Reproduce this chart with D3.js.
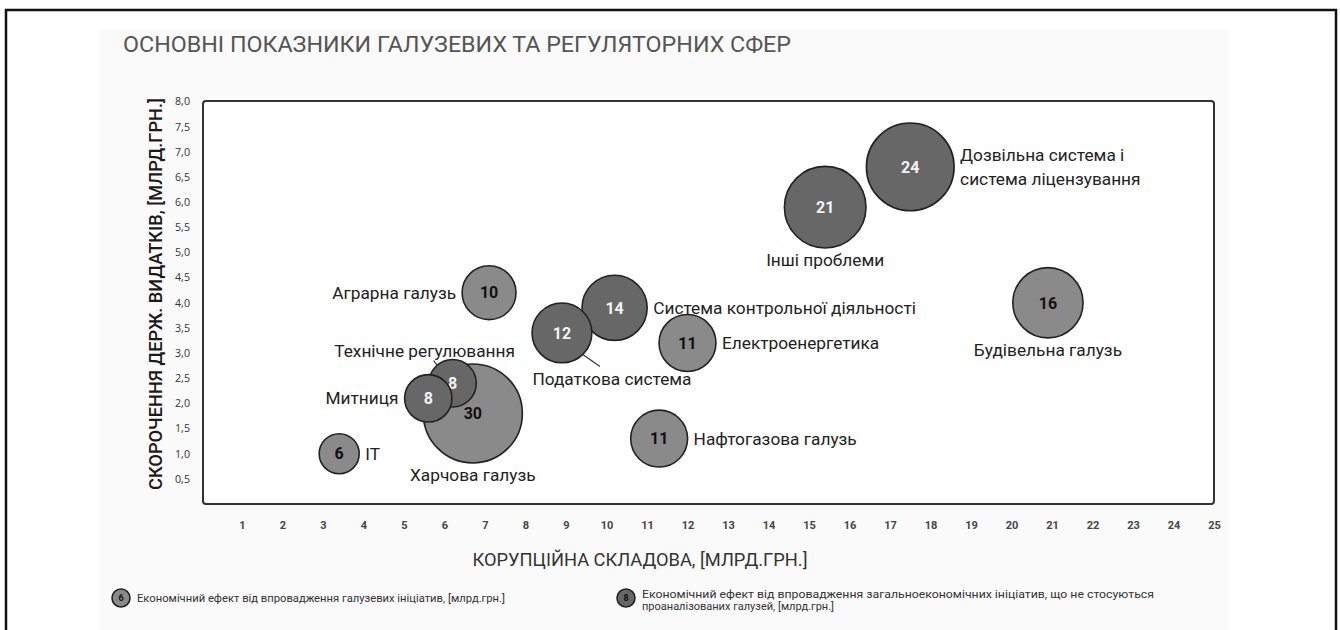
<!DOCTYPE html>
<html>
<head>
<meta charset="utf-8">
<script src="https://cdn.jsdelivr.net/npm/d3@7"></script>
<style>
  html, body { margin: 0; padding: 0; background: #fff; }
  svg { display: block; font-family: Roboto, "Noto Sans", sans-serif; }
</style>
</head>
<body>
<svg id="chart" width="1340" height="630"></svg>
<script>
// Chart data
const sectors = [
    "IT", "Технічне регулювання", "Митниця", "Харчова галузь", "Аграрна галузь",
    "Податкова система", "Система контрольної діяльності", "Електроенергетика",
    "Нафтогазова галузь", "Інші проблеми", "Дозвільна система і система ліцензування",
    "Будівельна галузь"
];
const corruption = [3.4, 6.2, 5.6, 6.7, 7.1, 8.9, 10.2, 12.0, 11.3, 15.4, 17.5, 20.9];
const spendingCut = [1.0, 2.4, 2.1, 1.8, 4.2, 3.4, 3.9, 3.2, 1.3, 5.9, 6.7, 4.0];
const effect = [6, 8, 8, 30, 10, 12, 14, 11, 11, 21, 24, 16];
// "sector" = sector initiatives, "general" = general economic initiatives
const effectType = ["sector", "general", "general", "sector", "sector", "general", "general",
    "sector", "sector", "general", "general", "sector"];

const xTicks = d3.range(1, 26);
const yTicks = d3.range(0.5, 8.01, 0.5);

// Label placement (layout only)
const labelPlace = [
    {side: "right"}, {side: "above", dx: -28, lead: true}, {side: "left"}, {side: "below"},
    {side: "left"}, {side: "belowright", dx: 50, lead: true}, {side: "right"}, {side: "right"},
    {side: "right"}, {side: "below"}, {side: "right", lines: ["Дозвільна система і", "система ліцензування"]},
    {side: "below"}
];

const svg = d3.select("#chart");

// page frame and panel
svg.append("rect").attr("x", 0).attr("y", 0).attr("width", 1340).attr("height", 630).attr("fill", "#fff");
svg.append("rect").attr("x", 100).attr("y", 30).attr("width", 1128).attr("height", 610).attr("fill", "#fafafa");
svg.append("path")
    .attr("d", "M6,640 L6,10 L1336,10 L1336,640")
    .attr("fill", "none").attr("stroke", "#111").attr("stroke-width", 2.5);

svg.append("text")
    .attr("x", 123).attr("y", 52)
    .attr("font-size", 22).attr("fill", "#555")
    .attr("textLength", 668).attr("lengthAdjust", "spacingAndGlyphs")
    .text("ОСНОВНІ ПОКАЗНИКИ ГАЛУЗЕВИХ ТА РЕГУЛЯТОРНИХ СФЕР");

const plot = {left: 203, right: 1214, top: 101, bottom: 504};

const x = d3.scaleLinear().domain([0, 25]).range([201.5, 1214]);
const y = d3.scaleLinear().domain([0, 8]).range([504, 101.5]);
const r = d3.scaleSqrt().domain([6, 30]).range([20, 49.5]);

svg.append("rect")
    .attr("x", plot.left).attr("y", plot.top)
    .attr("width", plot.right - plot.left).attr("height", plot.bottom - plot.top)
    .attr("rx", 3)
    .attr("fill", "#fff").attr("stroke", "#333").attr("stroke-width", 2);

const commaFmt = v => d3.format(".1f")(v).replace(".", ",");

const yAxis = svg.append("g")
    .attr("transform", `translate(${plot.left - 10},0)`)
    .call(d3.axisLeft(y).tickValues(yTicks).tickSize(0).tickFormat(commaFmt));
yAxis.select(".domain").remove();
yAxis.selectAll("text")
    .attr("font-family", "'Open Sans', sans-serif")
    .attr("font-size", 10.5).attr("fill", "#333")
    .attr("textLength", 15).attr("lengthAdjust", "spacingAndGlyphs");

const xAxis = svg.append("g")
    .attr("transform", `translate(0,${plot.bottom + 14})`)
    .call(d3.axisBottom(x).tickValues(xTicks).tickSize(0).tickFormat(d3.format("d")));
xAxis.select(".domain").remove();
xAxis.selectAll("text")
    .attr("font-family", "Roboto, sans-serif")
    .attr("font-weight", 700)
    .attr("font-size", 11).attr("fill", "#444");

svg.append("text")
    .attr("transform", "translate(162,294) rotate(-90)")
    .attr("text-anchor", "middle")
    .attr("font-size", 18).attr("font-weight", 500).attr("fill", "#1a1a1a")
    .attr("textLength", 392).attr("lengthAdjust", "spacingAndGlyphs")
    .text("СКОРОЧЕННЯ ДЕРЖ. ВИДАТКІВ, [МЛРД.ГРН.]");

svg.append("text")
    .attr("x", 640).attr("y", 566)
    .attr("text-anchor", "middle")
    .attr("font-size", 19).attr("fill", "#333")
    .attr("textLength", 335).attr("lengthAdjust", "spacingAndGlyphs")
    .text("КОРУПЦІЙНА СКЛАДОВА, [МЛРД.ГРН.]");

const fills = {sector: "#8a8a8a", general: "#676767"};
const numColor = {sector: "#111", general: "#f4f4f4"};

const items = sectors.map((name, i) => ({
    name, x: corruption[i], y: spendingCut[i], v: effect[i], type: effectType[i], place: labelPlace[i], i
}));
const drawOrder = items.slice().sort((a, b) => b.v - a.v);

const bubbles = svg.append("g")
    .selectAll("g")
    .data(drawOrder)
    .join("g")
    .attr("transform", d => `translate(${x(d.x)},${y(d.y)})`);

bubbles.append("circle")
    .attr("r", d => r(d.v))
    .attr("fill", d => fills[d.type])
    .attr("stroke", "#222").attr("stroke-width", 1.6);

bubbles.append("text")
    .attr("text-anchor", "middle").attr("dy", "0.36em")
    .attr("font-size", 16).attr("font-weight", 700)
    .attr("fill", d => numColor[d.type])
    .text(d => d.v);

// labels
const labels = svg.append("g").attr("font-size", 16).attr("fill", "#222");
items.forEach(d => {
    const cx = x(d.x), cy = y(d.y), rr = r(d.v);
    const p = d.place;
    const t = labels.append("text");
    const lines = p.lines || [d.name];
    let tx = cx, ty = cy, anchor = "middle";
    if (p.side === "right") { tx = cx + rr + 6; anchor = "start"; ty = cy + 6 - (lines.length - 1) * 12; }
    if (p.side === "left") { tx = cx - rr - 6; anchor = "end"; ty = cy + 6; }
    if (p.side === "below") { ty = cy + rr + 18; }
    if (p.side === "above") { tx = cx + p.dx; ty = cy - rr - 3; }
    if (p.side === "belowright") { tx = cx + p.dx; ty = cy + rr + 22; }
    t.attr("x", tx).attr("y", ty).attr("text-anchor", anchor)
        .attr("transform", `translate(${tx},0) scale(1.08,1) translate(${-tx},0)`);
    lines.forEach((ln, k) => {
        t.append("tspan").attr("x", tx).attr("dy", k === 0 ? 0 : 24).text(ln);
    });
    if (p.lead) {
        let x1, y1, x2, y2;
        if (p.side === "above") { x1 = cx - 19; y1 = cy - rr + 1; x2 = cx - 15; y2 = cy - rr + 6; }
        else { x1 = cx + rr * 0.7; y1 = cy + rr * 0.72; x2 = cx + rr * 0.7 + 17; y2 = cy + rr * 0.72 + 12; }
        labels.append("line").attr("x1", x1).attr("y1", y1).attr("x2", x2).attr("y2", y2)
            .attr("stroke", "#333").attr("stroke-width", 1.2);
    }
});

// legend
const legendItems = [
    {type: "sector", num: 6, x: 121, lines: ["Економічний ефект від впровадження  галузевих ініціатив, [млрд.грн.]"], len: [368]},
    {type: "general", num: 8, x: 626, lines: ["Економічний ефект від впровадження загальноекономічних ініціатив,  що не стосуються", "проаналізованих галузей, [млрд.грн.]"], len: [512, 192]}
];
const lg = svg.append("g");
legendItems.forEach(l => {
    const g = lg.append("g").attr("transform", `translate(${l.x},598)`);
    g.append("circle").attr("r", 9).attr("fill", fills[l.type]).attr("stroke", "#222").attr("stroke-width", 1.6);
    g.append("text").attr("text-anchor", "middle").attr("dy", "0.35em")
        .attr("font-size", 9).attr("font-weight", 700).attr("fill", "#111").text(l.num);
    l.lines.forEach((ln, k) => {
        g.append("text")
            .attr("x", 16).attr("y", (l.lines.length > 1 ? -4 : 0) + k * 12)
            .attr("dy", "0.35em")
            .attr("font-size", 10).attr("fill", "#333")
            .attr("textLength", l.len[k]).attr("lengthAdjust", "spacingAndGlyphs")
            .text(ln);
    });
});
</script>
</body>
</html>
